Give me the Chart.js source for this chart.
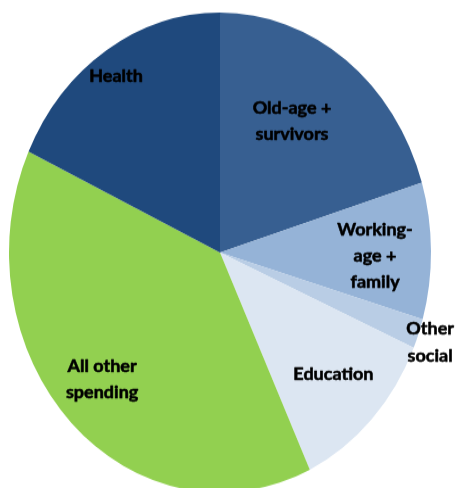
<!DOCTYPE html>
<html>
<head>
<meta charset="utf-8">
<script src="https://cdn.jsdelivr.net/npm/chart.js@4"></script>
<style>
  html, body { margin: 0; padding: 0; background: #fff; overflow: hidden; }
  #wrap {
    position: absolute; left: 0; top: 0;
    width: 456px; height: 440px;
    /* the original pie is a little taller than wide */
    transform: scaleY(1.1374); transform-origin: 0 0;
  }
</style>
</head>
<body>
<div id="wrap"><canvas id="myChart"></canvas></div>
<script>
const categorias = ["Old-age + survivors", "Working-age + family", "Other social", "Education", "All other spending", "Health"];
const etiquetas = [["Old-age +", "survivors"], ["Working-", "age +", "family"], ["Other", "social"], ["Education"], ["All other", "spending"], ["Health"]];
const valores = [20.3, 9.2, 2.0, 11.5, 38.9, 18.1];
const colores = ["#375f91", "#95b3d7", "#b9cde5", "#dce6f2", "#92d050", "#1f497d"];

// donde va cada etiqueta: fraccion del radio y giro (grados) respecto al centro del sector
const radioEtiqueta = [0.645, 0.735, 1.064, 0.74, 0.768, 0.886];
const giroEtiqueta = [-4.6, 1.5, 0.8, -0.7, 1.85, -1.2];

const escalaY = 1.1374;

const etiquetasPlugin = {
  id: "etiquetas",
  afterDatasetsDraw(chart) {
    const ctx = chart.ctx;
    const arcos = chart.getDatasetMeta(0).data;
    ctx.save();
    ctx.scale(1, 1 / escalaY); // deshacer el estiramiento para el texto
    ctx.font = "bold 18px Lato";
    ctx.fillStyle = "#000";
    ctx.strokeStyle = "#000";
    ctx.lineWidth = 0.6;
    ctx.lineJoin = "round";
    ctx.textAlign = "center";
    ctx.textBaseline = "middle";
    const lineH = 26.5;
    arcos.forEach((arco, i) => {
      const { x, y, startAngle, endAngle, outerRadius } = arco.getProps(["x", "y", "startAngle", "endAngle", "outerRadius"], true);
      const ang = (startAngle + endAngle) / 2 + giroEtiqueta[i] * Math.PI / 180;
      const r = outerRadius * radioEtiqueta[i];
      const px = x + Math.cos(ang) * r;
      const py = (y + Math.sin(ang) * r) * escalaY;
      const lineas = etiquetas[i];
      const y0 = py - (lineas.length - 1) * lineH / 2;
      lineas.forEach((t, j) => {
        ctx.fillText(t, px, y0 + j * lineH);
        ctx.strokeText(t, px, y0 + j * lineH);
      });
    });
    ctx.restore();
  }
};

const chartDom = document.getElementById("myChart");
new Chart(chartDom, {
  type: "pie",
  data: {
    labels: categorias,
    datasets: [{
      data: valores,
      backgroundColor: colores,
      borderWidth: 0
    }]
  },
  options: {
    responsive: true,
    maintainAspectRatio: false,
    animation: false,
    layout: { padding: { left: 9, right: 25, top: 11, bottom: 7 } },
    plugins: {
      legend: { display: false },
      tooltip: { enabled: false }
    }
  },
  plugins: [etiquetasPlugin]
});
</script>
</body>
</html>
